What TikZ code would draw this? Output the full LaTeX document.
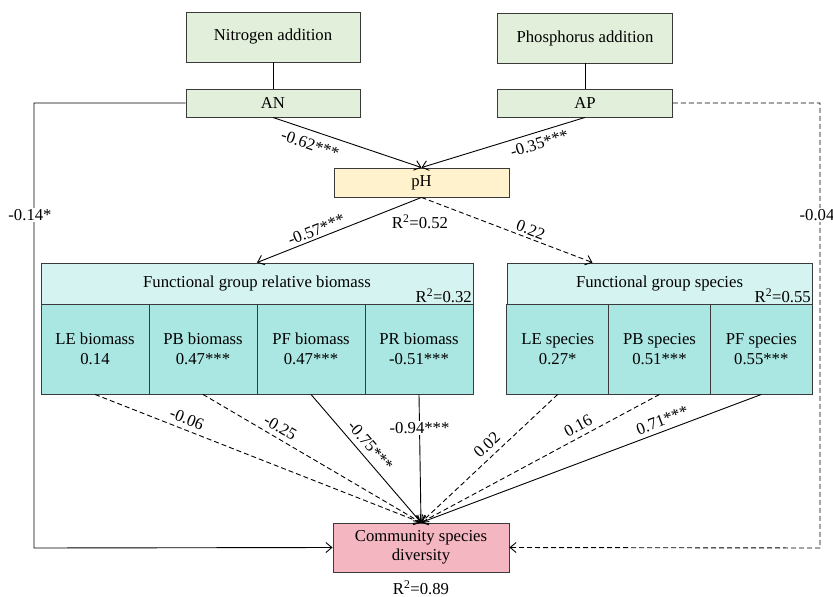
\documentclass[tikz,border=0pt]{standalone}
\usepackage{fontspec}
\setmainfont{Liberation Serif}
\usetikzlibrary{arrows.meta}
\definecolor{boxline}{HTML}{3A3A3A}
\definecolor{addgreen}{HTML}{E2EFDA}
\definecolor{phyellow}{HTML}{FFF2CC}
\definecolor{headcyan}{HTML}{D5F3F0}
\definecolor{cellcyan}{HTML}{AAE7E2}
\definecolor{divpink}{HTML}{F4B6C0}
\tikzset{
    box/.style={draw=boxline, line width=0.9pt, inner sep=0pt, align=center, font=\fontsize{16.7}{19.5}\selectfont},
    bcell/.style={box, fill=cellcyan, minimum width=108pt, minimum height=90pt},
    scell/.style={box, fill=cellcyan, minimum width=101.7pt, minimum height=90pt},
    lbl/.style={font=\fontsize{16.7}{19.5}\selectfont, inner sep=1.5pt},
    arr/.style={-{Straight Barb[length=6pt,width=10pt]}, line width=0.9pt},
    dsh/.style={dash pattern=on 5pt off 3pt}
}
\begin{document}
\begin{tikzpicture}[x=1pt, y=-1pt]
    \useasboundingbox (0,0) rectangle (833,597);
    \node[box, fill=addgreen, minimum width=174pt, minimum height=50pt] (nadd) at (273,37) {Nitrogen addition};
    \node[box, fill=addgreen, minimum width=174pt, minimum height=28pt] (an) at (273,103) {AN};
    \node[box, fill=addgreen, minimum width=175pt, minimum height=50pt] (padd) at (585,38) {Phosphorus addition};
    \node[box, fill=addgreen, minimum width=175pt, minimum height=28pt] (ap) at (585,103) {AP};
    \node[box, fill=phyellow, minimum width=175pt, minimum height=29pt] (ph) at (421.5,182.5) {pH};
    \node[lbl] (phr) at (420,222) {R\textsuperscript{2}=0.52};

    \node[box, fill=headcyan, minimum width=432pt, minimum height=41pt] (bioh) at (257,283.5) {Functional group relative biomass};
    \node[lbl, anchor=south east] at (bioh.south east) {R\textsuperscript{2}=0.32};
    \node[bcell] (le) at (95,349) {LE biomass\\0.14};
    \node[bcell] (pb) at (203,349) {PB biomass\\0.47***};
    \node[bcell] (pf) at (311,349) {PF biomass\\0.47***};
    \node[bcell] (pr) at (419,349) {PR biomass\\-0.51***};

    \node[box, fill=headcyan, minimum width=305pt, minimum height=41pt] (speh) at (659.5,283.5) {Functional group species};
    \node[lbl, anchor=south east] at (speh.south east) {R\textsuperscript{2}=0.55};
    \node[scell] (les) at (557.7,349) {LE species\\0.27*};
    \node[scell] (pbs) at (659.5,349) {PB species\\0.51***};
    \node[scell] (pfs) at (761.3,349) {PF species\\0.55***};

    \node[box, fill=divpink, minimum width=176pt, minimum height=49pt] (csd) at (421,547.5) {Community species\\diversity};
    \node[lbl] (csdr) at (421,588) {R\textsuperscript{2}=0.89};

    \coordinate (lc) at (34,548);
    \coordinate (rc) at (820,548);

    \draw[line width=0.9pt] (nadd) -- (an);
    \draw[line width=0.9pt] (padd) -- (ap);
    \draw[arr] (an.south) -- node[lbl, sloped, below=6pt, pos=0.28] {-0.62***} (ph.north);
    \draw[arr] (ap.south) -- node[lbl, sloped, below=4pt, pos=0.3] {-0.35***} (ph.north);
    \draw[arr] (ph.south) -- node[lbl, sloped, above=1pt, pos=0.62] {-0.57***} (bioh.north);
    \draw[arr, dsh] (ph.south) -- node[lbl, sloped, above=1pt, pos=0.62] {0.22} ([xshift=-67pt]speh.north);
    \draw[arr] (an.west) -| (lc) node[lbl, fill=white, pos=0.626, xshift=-4pt] {-0.14*} -- (csd.west);
    \draw[arr, dsh] (ap.east) -| (rc) node[lbl, fill=white, pos=0.626, xshift=-3pt] {-0.04} -- (csd.east);

    \draw[arr, dsh] (le.south) -- node[lbl, sloped, above=3pt, pos=0.27] {-0.06} (csd.north);
    \draw[arr, dsh] (pb.south) -- node[lbl, sloped, above=3pt, pos=0.33] {-0.25} (csd.north);
    \draw[arr] (pf.south) -- node[lbl, sloped, above=4pt, pos=0.46] {-0.75***} (csd.north);
    \draw[arr] (pr.south) -- node[lbl, fill=white, pos=0.26] {-0.94***} (csd.north);
    \draw[arr, dsh] (les.south) -- node[lbl, sloped, above=4pt, pos=0.46] {0.02} (csd.north);
    \draw[arr, dsh] (pbs.south) -- node[lbl, sloped, above=3pt, pos=0.32] {0.16} (csd.north);
    \draw[arr] (pfs.south) -- node[lbl, sloped, above=3pt, pos=0.28] {0.71***} (csd.north);
\end{tikzpicture}
\end{document}
